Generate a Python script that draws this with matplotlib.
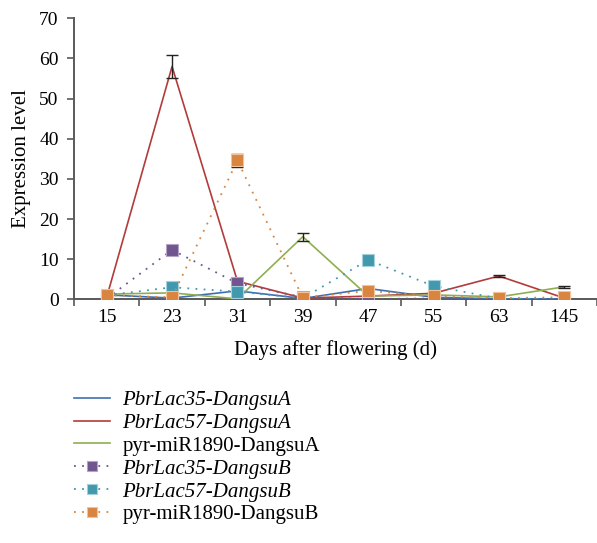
#!/usr/bin/env python3
import matplotlib
matplotlib.use('Agg')
import matplotlib.pyplot as plt
from matplotlib import rc
import numpy as np

rc('font', **{'family': 'serif', 'serif': ['Liberation Serif', 'DejaVu Serif']})
fs = 14    # tick labels
fsl = 15   # axis labels and legend

days = ['15', '23', '31', '39', '47', '55', '63', '145']

lac35_a = [1.1, 0.3, 2.1, 0.2, 2.7, 0.5, 0.1, 0.1]
lac57_a = [0.5, 58.0, 4.5, 0.3, 0.8, 1.5, 5.8, 0.3]
mir_a = [1.3, 1.6, 0.1, 15.6, 0.8, 1.1, 0.6, 3.1]
lac35_b = [0.2, 12.3, 4.0, 0.5, 0.1, 0.2, 0.1, 0.1]
lac57_b = [1.0, 3.0, 1.9, 0.3, 9.8, 3.3, 0.2, 0.0]
mir_b = [1.0, 0.5, 34.6, 0.4, 2.1, 0.8, 0.3, 0.5]

# error bars (only the visible ones, 0 = not drawn)
lac57_a_err = [0, 2.9, 0, 0, 0, 0, 0.3, 0]
mir_a_err = [0, 0, 0, 1.0, 0, 0, 0, 0.2]
mir_b_err = [0, 0, 1.6, 0, 0, 0, 0, 0]

labels = ['PbrLac35-DangsuA', 'PbrLac57-DangsuA', 'pyr-miR1890-DangsuA',
          'PbrLac35-DangsuB', 'PbrLac57-DangsuB', 'pyr-miR1890-DangsuB']
colors = ['#3f6fb0', '#b23b3b', '#8fae4f', '#70558f', '#4299ae', '#d9843f']
edge = ['#3f6fb0', '#b23b3b', '#8fae4f', '#b3a3c8', '#a3d0dc', '#f0c39c']

fig = plt.figure(figsize=(5.97, 5.43), dpi=100)
ax = fig.add_axes([74/597, 1 - 299.3/543, 523/597, (299.3 - 18.3)/543])

x = np.arange(len(days))


def err_bars(ys, errs, z):
    ys = np.array(ys)
    errs = np.array(errs)
    m = errs > 0
    ax.errorbar(x[m], ys[m], yerr=errs[m], fmt='none', ecolor='#222222',
                elinewidth=1.0, capsize=4, capthick=1.0, zorder=z)


ax.plot(x, lac35_a, color=colors[0], lw=1.2, label=labels[0], zorder=3)
ax.plot(x, lac57_a, color=colors[1], lw=1.2, label=labels[1], zorder=3)
ax.plot(x, mir_a, color=colors[2], lw=1.2, label=labels[2], zorder=3)
err_bars(lac57_a, lac57_a_err, 4)
err_bars(mir_a, mir_a_err, 4)

for i, ys in enumerate([lac35_b, lac57_b, mir_b]):
    k = i + 3
    ax.plot(x, ys, color=colors[k], lw=1.3, ls=(0, (1, 3.5)), marker='s',
            markersize=9, markerfacecolor=colors[k], markeredgecolor=edge[k],
            markeredgewidth=0.8, label=labels[k], zorder=5 + i)
err_bars(mir_b, mir_b_err, 4.5)

ax.set_xlim(-0.5, len(days) - 0.5)
ax.set_ylim(0, 70)
ax.set_yticks(np.arange(0, 71, 10))
ax.set_xticks(x)
ax.set_xticklabels(days)
ax.set_xticks(np.arange(-0.5, len(days), 1.0), minor=True)
ax.tick_params(axis='x', which='major', length=0, labelsize=fs, pad=7)
ax.tick_params(axis='x', which='minor', length=5, width=1.2, color='#595959')
ax.tick_params(axis='y', which='major', length=5, width=1.2, color='#595959', labelsize=fs, pad=6)

for s in ['top', 'right']:
    ax.spines[s].set_visible(False)
for s in ['left', 'bottom']:
    ax.spines[s].set_color('#595959')
    ax.spines[s].set_linewidth(1.4)

ax.set_xlabel('Days after flowering (d)', fontsize=fsl, labelpad=10)
ax.set_ylabel('Expression level', fontsize=fsl, labelpad=6)

handles, labs = ax.get_legend_handles_labels()
leg = fig.legend(handles, labs, loc='upper left', bbox_to_anchor=(66/597, 1 - 382/543),
                 frameon=False, fontsize=fsl, handlelength=1.7, handletextpad=0.6,
                 labelspacing=0.16, borderaxespad=0, markerscale=0.75)
for t in leg.get_texts():
    if t.get_text().startswith('Pbr'):
        t.set_fontstyle('italic')

fig.savefig('out.png', dpi=100)
plt.close(fig)
